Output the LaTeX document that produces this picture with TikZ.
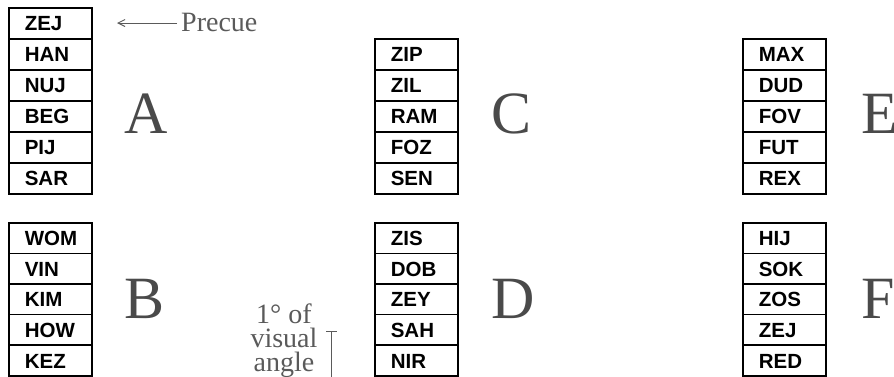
\documentclass[tikz,border=0pt]{standalone}
\usepackage{fontspec}
\setmainfont{Liberation Serif}
\newfontfamily\cellfont{Liberation Sans}
\usetikzlibrary{arrows.meta}
\definecolor{lettergray}{HTML}{4A4A4A}
\definecolor{notegray}{HTML}{5A5A5A}
\tikzset{
  cell/.style={draw=black, line width=1.6pt, rectangle, anchor=north west,
    minimum height=#1, text width=51pt, inner xsep=16pt, inner ysep=0pt, align=left,
    font=\cellfont\bfseries\fontsize{20.5}{20.5}\selectfont, text height=15pt, text depth=0pt},
  cell/.default=31pt,
  biglabel/.style={anchor=base west, inner sep=0pt, text=lettergray,
    font=\fontsize{60}{60}\selectfont},
  note/.style={inner sep=0pt, text=notegray, font=\fontsize{28}{24}\selectfont},
  noteline/.style={draw=notegray, line width=1pt},
}
\begin{document}
\begin{tikzpicture}[x=1pt,y=-1pt]
\useasboundingbox (0,0) rectangle (894,376);
% column A
\foreach \w [count=\i] in {ZEJ,HAN,NUJ,BEG,PIJ,SAR}
  \node[cell] (A\i) at (8,{7+31*(\i-1)}) {\w};
% column C
\foreach \w [count=\i] in {ZIP,ZIL,RAM,FOZ,SEN}
  \node[cell] (C\i) at (374,{38+31*(\i-1)}) {\w};
% column E
\foreach \w [count=\i] in {MAX,DUD,FOV,FUT,REX}
  \node[cell] (E\i) at (742,{38+31*(\i-1)}) {\w};
% column B
\foreach \w [count=\i] in {WOM,VIN,KIM,HOW,KEZ}
  \node[cell=30.6pt] (B\i) at (8,{222+30.6*(\i-1)}) {\w};
% column D
\foreach \w [count=\i] in {ZIS,DOB,ZEY,SAH,NIR}
  \node[cell=30.6pt] (D\i) at (374,{222+30.6*(\i-1)}) {\w};
% column F
\foreach \w [count=\i] in {HIJ,SOK,ZOS,ZEJ,RED}
  \node[cell=30.6pt] (F\i) at (742,{222+30.6*(\i-1)}) {\w};
% letters
\node[biglabel] (LA) at (124,133) {A};
\node[biglabel] (LC) at (491,133) {C};
\node[biglabel] (LE) at (861,133) {E};
\node[biglabel] (LB) at (124,318) {B};
\node[biglabel] (LD) at (491,318) {D};
\node[biglabel] (LF) at (861,318) {F};
% precue
\node[note, anchor=base west] (precue) at (181,31.5) {Precue};
\coordinate (pcs) at (177,23);
\coordinate (pce) at (117,23);
\draw[noteline, -{Straight Barb[length=7pt,width=7pt]}] (pcs) -- (pce);
% scale bar
\node[note, anchor=north, align=center] (scale) at (284,303.5) {1° of\\visual\\angle};
\coordinate (bl) at (326,331);
\coordinate (br) at (337,331);
\coordinate (bm) at (331.5,331);
\coordinate (bb) at (331.5,378);
\draw[noteline] (bl) -- (br);
\draw[noteline] (bm) -- (bb);
\end{tikzpicture}
\end{document}
